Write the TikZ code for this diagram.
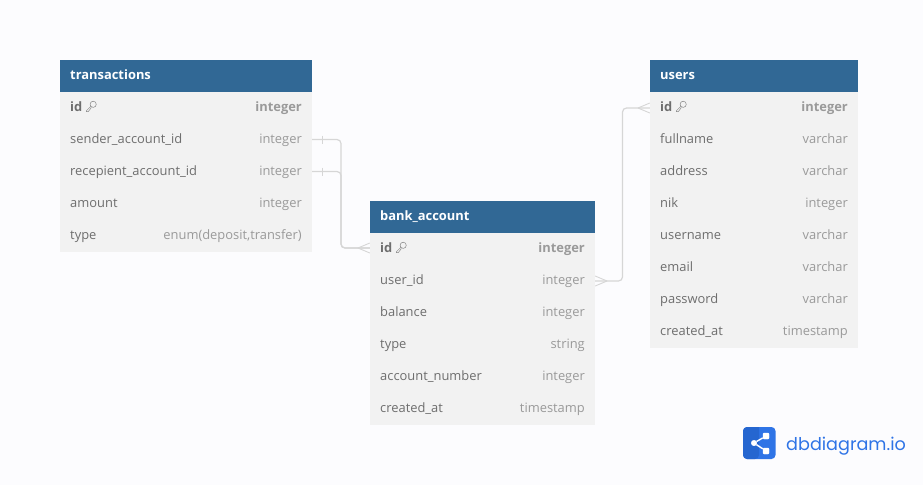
\documentclass[tikz,border=0pt]{standalone}
\usepackage{xcolor}
\usepackage{fontspec}
\setmainfont{Open Sans}
\newfontfamily\logofont{Poppins}
\definecolor{pagebg}{HTML}{FCFCFE}
\definecolor{headbg}{HTML}{316895}
\definecolor{bodybg}{HTML}{F2F2F2}
\definecolor{namegray}{HTML}{6E6E6E}
\definecolor{typegray}{HTML}{9A9A9A}
\definecolor{keygray}{HTML}{858585}
\definecolor{linegray}{HTML}{D6D6D6}
\definecolor{logoblue}{HTML}{2F74E6}
\definecolor{logodark}{HTML}{2566D0}
\tikzset{
    tablehead/.style={anchor=north west, fill=headbg, text=white, font=\bfseries\fontsize{12.9}{13}\selectfont, minimum height=32pt, inner xsep=10pt, inner ysep=0pt, align=left, text height=9.5pt, text depth=3.5pt},
    tablebody/.style={anchor=north west, fill=bodybg, inner sep=0pt},
    fieldname/.style={anchor=base west, inner sep=0pt, text=namegray, font=\fontsize{12.9}{13}\selectfont},
    fieldtype/.style={anchor=base east, inner sep=0pt, text=typegray, font=\fontsize{12.9}{13}\selectfont},
    keyname/.style={fieldname, font=\bfseries\fontsize{12.9}{13}\selectfont},
    keytype/.style={fieldtype, font=\bfseries\fontsize{12.9}{13}\selectfont},
    portrow/.style={minimum height=32pt, inner sep=0pt},
    relation/.style={draw=linegray, line width=1.2pt, rounded corners=4pt},
    crowfoot/.style={draw=linegray, line width=0.9pt},
    keyicon/.pic={
        \draw[keygray, line width=0.5pt] (2.2,-2.2) circle (3.1);
        \draw[keygray, line width=0.5pt] (0,-0.4) -- (-4.6,4.2) -- (-4.6,5.2) -- (-2.8,5.2) -- (0.4,1.0);
    }
}
\begin{document}
\begin{tikzpicture}[x=1pt, y=-1pt]
    \useasboundingbox[fill=pagebg] (0,0) rectangle (923,485);

    % transactions
    \node[tablebody, minimum width=252pt, minimum height=160pt] (trbody) at (60,92) {};
    \node[tablehead, text width=232pt, minimum width=252pt] (trhead) at (60,60) {transactions};
    \node[keyname] (trid) at (70,111) {id};
    \node[keytype] (tridtype) at (302,111) {integer};
    \node[fieldname] (trsender) at (70,143) {sender\_account\_id};
    \node[fieldtype] (trsendertype) at (302,143) {integer};
    \node[fieldname] (trrecp) at (70,175) {recepient\_account\_id};
    \node[fieldtype] (trrecptype) at (302,175) {integer};
    \node[fieldname] (tramount) at (70,207) {amount};
    \node[fieldtype] (tramounttype) at (302,207) {integer};
    \node[fieldname] (trtype) at (70,239) {type};
    \node[fieldtype] (trtypetype) at (302,239) {enum(deposit,transfer)};
    \pic at (91,106.5) {keyicon};

    % bank_account
    \node[tablebody, minimum width=225pt, minimum height=192pt] (babody) at (370,233) {};
    \node[tablehead, text width=205pt, minimum width=225pt] (bahead) at (370,201) {bank\_account};
    \node[keyname] (baid) at (380,252) {id};
    \node[keytype] (baidtype) at (585,252) {integer};
    \node[fieldname] (bauser) at (380,284) {user\_id};
    \node[fieldtype] (bausertype) at (585,284) {integer};
    \node[fieldname] (babalance) at (380,316) {balance};
    \node[fieldtype] (babalancetype) at (585,316) {integer};
    \node[fieldname] (batype) at (380,348) {type};
    \node[fieldtype] (batypetype) at (585,348) {string};
    \node[fieldname] (banumber) at (380,380) {account\_number};
    \node[fieldtype] (banumbertype) at (585,380) {integer};
    \node[fieldname] (bacreated) at (380,412) {created\_at};
    \node[fieldtype] (bacreatedtype) at (585,412) {timestamp};
    \pic at (401,247.5) {keyicon};

    % users
    \node[tablebody, minimum width=208pt, minimum height=256pt] (usbody) at (650,92) {};
    \node[tablehead, text width=188pt, minimum width=208pt] (ushead) at (650,60) {users};
    \node[keyname] (usid) at (660,111) {id};
    \node[keytype] (usidtype) at (848,111) {integer};
    \node[fieldname] (usfull) at (660,143) {fullname};
    \node[fieldtype] (usfulltype) at (848,143) {varchar};
    \node[fieldname] (usaddr) at (660,175) {address};
    \node[fieldtype] (usaddrtype) at (848,175) {varchar};
    \node[fieldname] (usnik) at (660,207) {nik};
    \node[fieldtype] (usniktype) at (848,207) {integer};
    \node[fieldname] (usname) at (660,239) {username};
    \node[fieldtype] (usnametype) at (848,239) {varchar};
    \node[fieldname] (usemail) at (660,271) {email};
    \node[fieldtype] (usemailtype) at (848,271) {varchar};
    \node[fieldname] (uspass) at (660,303) {password};
    \node[fieldtype] (uspasstype) at (848,303) {varchar};
    \node[fieldname] (uscreated) at (660,335) {created\_at};
    \node[fieldtype] (uscreatedtype) at (848,335) {timestamp};
    \pic at (681,106.5) {keyicon};

    % row ends that the relations leave from
    \node[portrow, minimum width=252pt] (trsenderrow) at (186,139.5) {};
    \node[portrow, minimum width=252pt] (trrecprow) at (186,171.5) {};
    \node[portrow, minimum width=225pt] (baidrow) at (482.5,248) {};
    \node[portrow, minimum width=225pt] (bauserrow) at (482.5,281) {};
    \node[portrow, minimum width=208pt] (usidrow) at (754,108) {};

    % relations
    \draw[relation] (trsenderrow.east) -- (341,139.5) -- (341,248) -- (baidrow.west);
    \draw[relation] (trrecprow.east) -- (341,171.5) -- (341,248) -- (baidrow.west);
    \draw[relation] (bauserrow.east) -- (622.5,281) -- (622.5,108) -- (usidrow.west);

    % ends of the relations
    \draw[crowfoot] (322,135.5) -- (322,143.5);
    \draw[crowfoot] (322,167.5) -- (322,175.5);
    \draw[crowfoot] (358,248) -- ([yshift=-5pt]baidrow.west);
    \draw[crowfoot] (358,248) -- ([yshift=5pt]baidrow.west);
    \draw[crowfoot] (607,281) -- ([yshift=-5pt]bauserrow.east);
    \draw[crowfoot] (607,281) -- ([yshift=5pt]bauserrow.east);
    \draw[crowfoot] (638,108) -- ([yshift=-5pt]usidrow.west);
    \draw[crowfoot] (638,108) -- ([yshift=5pt]usidrow.west);

    % logo
    \fill[logoblue, rounded corners=4pt] (743,427) rectangle (775.5,459);
    \fill[logodark, rounded corners=4pt] (759,427) -- (743,427) -- (743,459) -- (759,459) [sharp corners] -- cycle;
    \node[draw=white, fill=white, circle, minimum size=5.5pt, inner sep=0pt] (logoleft) at (754,443) {};
    \node[draw=white, fill=white, rounded corners=1pt, minimum size=6pt, inner sep=0pt] (logotop) at (766,436) {};
    \node[draw=white, fill=white, rounded corners=1pt, minimum size=6pt, inner sep=0pt] (logobottom) at (766,451) {};
    \draw[white, line width=1.4pt] (logoleft) -- (logotop);
    \draw[white, line width=1.4pt] (logoleft) -- (logobottom);
    \node[anchor=base west, inner sep=0pt, text=logoblue, font=\logofont\fontsize{17.6}{18}\selectfont] (logotext) at (786,450) {dbdiagram.io};
\end{tikzpicture}
\end{document}
